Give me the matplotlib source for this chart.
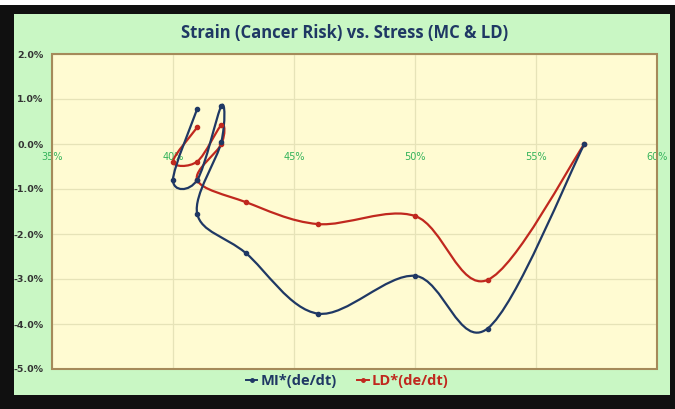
import matplotlib
matplotlib.use("Agg")
import matplotlib.pyplot as plt
import numpy as np
from matplotlib.path import Path
from matplotlib.patches import PathPatch, Rectangle
from matplotlib.lines import Line2D
from matplotlib.ticker import FuncFormatter

# Data (stress in %, strain in %)
stress = [41, 40, 41, 42, 42, 41, 43, 46, 50, 53, 57]
mi = [0.78, -0.80, -0.80, 0.85, 0.05, -1.55, -2.42, -3.77, -2.93, -4.10, 0.0]
ld = [0.37, -0.39, -0.39, 0.42, 0.0, -0.80, -1.29, -1.78, -1.60, -3.02, 0.0]
series_names = ["MI*(de/dt)", "LD*(de/dt)"]
xticks = [35, 40, 45, 50, 55, 60]
yticks = [2, 1, 0, -1, -2, -3, -4, -5]

navy = "#1F3864"
red = "#C0281E"
green_bg = "#C9F7C4"
plot_bg = "#FFFBD2"

fig = plt.figure(figsize=(6.75, 4.09), dpi=100, facecolor="#101010")
fig.patches.append(Rectangle((0, 1 - 5/409), 1, 5/409, transform=fig.transFigure,
                             facecolor="white", edgecolor="none", zorder=-2))
fig.patches.append(Rectangle((14/675, 1 - 395/409), (670 - 14)/675, (395 - 14)/409,
                             transform=fig.transFigure, facecolor=green_bg,
                             edgecolor="none", zorder=-1))

ax = fig.add_axes([52/675, 1 - 369/409, (657 - 52)/675, (369 - 54)/409])
ax.set_facecolor(plot_bg)
ax.set_xlim(35, 60)
ax.set_ylim(-5, 2)

# Scale factors (pixels per data unit) so smoothing is done in screen-like space
sx, sy = 24.2, 45.0

def smooth_path(xs, ys, f=1/6):
    P = np.column_stack([np.array(xs, float) * sx, np.array(ys, float) * sy])
    n = len(P)
    verts = [P[0]]
    codes = [Path.MOVETO]
    for i in range(n - 1):
        p0 = P[i - 1] if i > 0 else P[i]
        p1 = P[i]
        p2 = P[i + 1]
        p3 = P[i + 2] if i + 2 < n else P[i + 1]
        c1 = p1 + (p2 - p0) * f
        c2 = p2 - (p3 - p1) * f
        verts += [c1, c2, p2]
        codes += [Path.CURVE4] * 3
    V = np.array(verts)
    V[:, 0] /= sx
    V[:, 1] /= sy
    return Path(V, codes)

for ys, col in [(ld, red), (mi, navy)]:
    ax.add_patch(PathPatch(smooth_path(stress, ys), facecolor="none",
                           edgecolor=col, lw=1.6, zorder=3))
    ax.plot(stress, ys, linestyle="none", marker="o", ms=3, color=col, zorder=4)

ax.set_xticks(xticks)
ax.set_yticks(yticks)
ax.yaxis.set_major_formatter(FuncFormatter(lambda v, p: f"{v:.1f}%"))
ax.xaxis.set_major_formatter(FuncFormatter(lambda v, p: f"{v:.0f}%"))
ax.grid(True, color="#E6E3B8", lw=0.9, zorder=0)
ax.set_axisbelow(True)
ax.tick_params(axis="both", length=0)
ax.tick_params(axis="y", labelsize=6.8, labelcolor="#333333", pad=6)
ax.tick_params(axis="x", labelsize=7, labelcolor="#33B35A", pad=6)
for lab in ax.get_yticklabels():
    lab.set_fontweight("bold")
for lab in ax.get_xticklabels():
    lab.set_fontweight("bold")
ax.spines["bottom"].set_position(("data", 0))
ax.spines["bottom"].set_visible(False)
for side in ["left", "right", "top"]:
    ax.spines[side].set_visible(False)
ax.add_patch(Rectangle((0, 0), 1, 1, transform=ax.transAxes, fill=False,
                       edgecolor="#A58A5A", lw=1.5, zorder=5, clip_on=False))

fig.text(345/675, 1 - 33/409, "Strain (Cancer Risk) vs. Stress (MC & LD)",
         ha="center", va="center", fontsize=12, fontweight="bold",
         color=navy, family="Open Sans")

handles = [Line2D([], [], color=navy, marker="o", ms=2.5, lw=1.4),
           Line2D([], [], color=red, marker="o", ms=2.5, lw=1.4)]
leg = fig.legend(handles, series_names, loc="center", bbox_to_anchor=(347/675, 1 - 381/409),
                 ncol=2, frameon=False, handlelength=0.8, handletextpad=0.2,
                 columnspacing=1.4, prop={"family": "Open Sans", "weight": "bold", "size": 10.5})
for t, c in zip(leg.get_texts(), [navy, red]):
    t.set_color(c)

fig.savefig("out.png", dpi=100, facecolor=fig.get_facecolor())
